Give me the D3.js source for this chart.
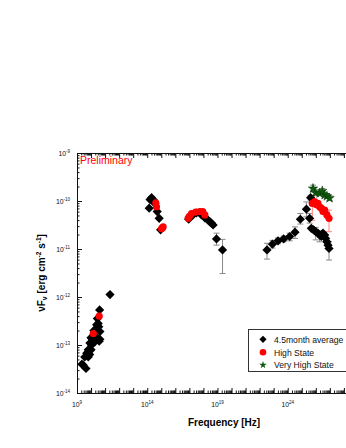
<!DOCTYPE html>
<html><head><meta charset="utf-8">
<script src="https://cdn.jsdelivr.net/npm/d3@7"></script>
<style>body{margin:0;background:#fff;}svg{display:block;}</style>
</head><body>
<script>
// Data: [log10(nu/Hz), log10(nuFnu), errLow(log), errHigh(log)] (errors absent if none)
const avgRadio = [[11.35,-11.95],[10.61,-12.27],[10.51,-12.55],[10.40,-12.58],[10.63,-12.72],[10.58,-12.92],
  [9.995,-12.85],[9.92,-12.96],[9.80,-13.10],[9.69,-13.17],[9.80,-13.25],[9.45,-13.42],[9.64,-13.49],
  [10.35,-12.83],[10.28,-12.93],[10.04,-13.00],[10.63,-12.88],[10.0,-13.1],[9.55,-13.25],[9.9,-13.2],
  [10.2,-12.7],[10.45,-12.45],[9.35,-13.40],[10.16,-12.8],[10.55,-12.62],[10.1,-12.9]];
const avgOptical = [[14.31,-9.93],[14.14,-10.15],[14.54,-10.05],[14.71,-10.22],[14.85,-10.36],[14.95,-10.60],[14.2,-9.97],[14.45,-9.98]];
const avgXray = [[17.26,-10.29],[17.86,-10.29],[18.33,-10.40],[18.57,-10.46],[18.69,-10.50],[18.1,-10.35],[16.95,-10.38],[17.5,-10.25],[18.45,-10.43],
  [18.93,-10.79,-10.67,-10.92],[19.36,-11.02,-10.80,-11.51]];
const avgGamma = [[22.525,-11.02,-10.88,-11.21],[22.91,-10.90,-10.82,-10.98],[23.31,-10.83,-10.77,-10.89],[23.71,-10.79,-10.73,-10.85],
  [24.14,-10.74,-10.67,-10.83],[24.52,-10.65,-10.54,-10.78],[24.90,-10.38,-10.26,-10.48],[25.33,-10.17,-10.02,-10.33],
  [25.56,-10.36,-10.26,-10.46],[25.63,-9.93,-9.88,-9.98],
  [25.68,-10.57],[25.84,-10.60],[25.99,-10.64,-10.55,-10.81],[26.15,-10.67],[26.27,-10.71,-10.62,-10.85],[26.39,-10.74],
  [26.51,-10.67],[26.63,-10.71],[26.70,-10.78],[26.79,-10.85],[26.87,-10.92],[26.94,-10.99,-10.85,-11.23]];
const highState = [[10.58,-12.40],[10.16,-12.76],
  [14.61,-10.04],[14.66,-10.12],[15.13,-10.54],[15.02,-10.58],[15.07,-10.56],
  [16.91,-10.36],[17.15,-10.26],[17.74,-10.22],[18.10,-10.29],[17.45,-10.23],[17.95,-10.22],[17.0,-10.32],
  [25.75,-10.05,-9.91,-10.40],[25.92,-10.01],[26.04,-10.08],[26.15,-10.05],[26.27,-10.12],[26.39,-10.15],
  [26.51,-10.22],[26.63,-10.19],[26.79,-10.29],[26.94,-10.36,-10.19,-10.64]];
const veryHighState = [[25.80,-9.74,-9.67,-9.81],[25.99,-9.83,-9.78,-9.88],[26.27,-9.84,-9.79,-9.89],[26.46,-9.79,-9.74,-9.84],
  [26.63,-9.875,-9.83,-9.92],[26.79,-9.90,-9.85,-9.95],[26.98,-9.94,-9.89,-9.99]];
const xTickExps = [9,14,19,24];
const yTickExps = [-9,-10,-11,-12,-13,-14];
const legendLabels = ["4.5month average","High State","Very High State"];
const xTitle = "Frequency [Hz]";

const W = 346, H = 448;
const svg = d3.select("body").append("svg").attr("width", W).attr("height", H);
const x = d3.scaleLog().domain([1e9, 1e30]).range([77, 372]);
const y = d3.scaleLog().domain([1e-14, 1e-9]).range([393, 153]);
const font = "Liberation Sans, Arial, sans-serif";

function minorVals(dom){
  const lo = Math.round(Math.log10(dom[0])), hi = Math.round(Math.log10(dom[1]));
  const v = [];
  for (let e = lo; e < hi; e++) for (let m = 2; m <= 9; m++) v.push(m * Math.pow(10, e));
  return v;
}
function majorVals(dom){
  const lo = Math.round(Math.log10(dom[0])), hi = Math.round(Math.log10(dom[1]));
  const v = []; for (let e = lo; e <= hi; e++) v.push(Math.pow(10, e)); return v;
}
function addAxis(gen, scale, tx, ty, dir){
  const g1 = svg.append("g").attr("transform", `translate(${tx},${ty})`)
    .call(gen(scale).tickValues(majorVals(scale.domain())).tickSizeInner(dir*5).tickSizeOuter(0).tickFormat(""));
  const g2 = svg.append("g").attr("transform", `translate(${tx},${ty})`)
    .call(gen(scale).tickValues(minorVals(scale.domain())).tickSizeInner(dir*2.5).tickSizeOuter(0).tickFormat(""));
  [g1,g2].forEach(g => { g.selectAll("path,line").attr("stroke","#111").attr("stroke-width",1); });
}
addAxis(d3.axisBottom, x, 0, 393, -1);
addAxis(d3.axisTop, x, 0, 153, -1);
addAxis(d3.axisLeft, y, 77, 0, -1);
addAxis(d3.axisRight, y, 372, 0, -1);

// tick labels
xTickExps.forEach(e => {
  const t = svg.append("text").attr("x", x(Math.pow(10,e))).attr("y", 407).attr("text-anchor","middle")
    .attr("font-family", font).attr("font-size", 6.8).attr("fill","#111");
  t.append("tspan").text("10");
  t.append("tspan").attr("dy", -3).attr("font-size", 4.5).text(e);
});
yTickExps.forEach(e => {
  const t = svg.append("text").attr("x", 70).attr("y", y(Math.pow(10,e)) + 3).attr("text-anchor","end")
    .attr("font-family", font).attr("font-size", 6.8).attr("fill","#111");
  t.append("tspan").text("10");
  t.append("tspan").attr("dy", -3).attr("font-size", 4.5).text(e);
});

// axis titles
svg.append("text").attr("x", 224).attr("y", 426).attr("text-anchor","middle")
  .attr("font-family", font).attr("font-weight","bold").attr("font-size", 10).text(xTitle);
const yt = svg.append("text").attr("transform", "translate(45,273) rotate(-90)").attr("text-anchor","middle")
  .attr("font-family", font).attr("font-weight","bold").attr("font-size", 10);
yt.append("tspan").text("νF");
yt.append("tspan").attr("dy", 2).attr("font-size", 7).text("ν");
yt.append("tspan").attr("dy", -2).text(" [erg cm");
yt.append("tspan").attr("dy", -4).attr("font-size", 6.5).text("-2");
yt.append("tspan").attr("dy", 4).text(" s");
yt.append("tspan").attr("dy", -4).attr("font-size", 6.5).text("-1");
yt.append("tspan").attr("dy", 4).text("]");

svg.append("text").attr("x", 80).attr("y", 164).attr("font-family", font).attr("font-size", 10.5)
  .attr("fill", "#ff0000").text("Preliminary");

const P = d => [x(Math.pow(10, d[0])), y(Math.pow(10, d[1]))];
function errBars(data, color){
  const g = svg.append("g").attr("stroke", color).attr("stroke-width", 1);
  data.filter(d => d.length > 2).forEach(d => {
    const cx = x(Math.pow(10,d[0])), y1 = y(Math.pow(10,d[2])), y2 = y(Math.pow(10,d[3]));
    g.append("line").attr("x1",cx).attr("x2",cx).attr("y1",y1).attr("y2",y2);
    g.append("line").attr("x1",cx-3).attr("x2",cx+3).attr("y1",y1).attr("y2",y1);
    g.append("line").attr("x1",cx-3).attr("x2",cx+3).attr("y1",y2).attr("y2",y2);
  });
}
const diamond = r => `M0,${-r}L${r},0L0,${r}L${-r},0Z`;
const avgAll = avgRadio.concat(avgOptical, avgXray, avgGamma);
errBars(avgAll, "#8a8a8a");
errBars(highState, "#ff8080");
errBars(veryHighState, "#8a8a8a");
svg.append("g").selectAll("path").data(avgAll).join("path")
  .attr("transform", d => `translate(${P(d)})`).attr("d", diamond(4.6)).attr("fill", "#000");
svg.append("g").selectAll("circle").data(highState).join("circle")
  .attr("cx", d => P(d)[0]).attr("cy", d => P(d)[1]).attr("r", 3.6).attr("fill", "#ff0000");
svg.append("g").selectAll("path").data(veryHighState).join("path")
  .attr("transform", d => `translate(${P(d)})`).attr("d", d3.symbol(d3.symbolStar, 28)()).attr("fill", "#0a5a0a").attr("stroke","#063806").attr("stroke-width",0.5);

// legend
const lg = svg.append("g");
lg.append("rect").attr("x", 248.5).attr("y", 329.5).attr("width", 130).attr("height", 42)
  .attr("fill", "#fff").attr("stroke", "#333").attr("stroke-width", 1);
const ly = [339.3, 352.3, 365];
lg.append("path").attr("transform", `translate(263,${ly[0]})`).attr("d", diamond(3.6)).attr("fill","#000");
lg.append("circle").attr("cx", 263).attr("cy", ly[1]).attr("r", 3.3).attr("fill","#ff0000");
lg.append("path").attr("transform", `translate(263,${ly[2]})`).attr("d", d3.symbol(d3.symbolStar, 18)()).attr("fill","#0a5a0a");
legendLabels.forEach((s,i) => lg.append("text").attr("x", 274).attr("y", ly[i] + 3.2).attr("font-family", font)
  .attr("font-size", 8.6).attr("fill","#111").text(s));
</script>
</body></html>
